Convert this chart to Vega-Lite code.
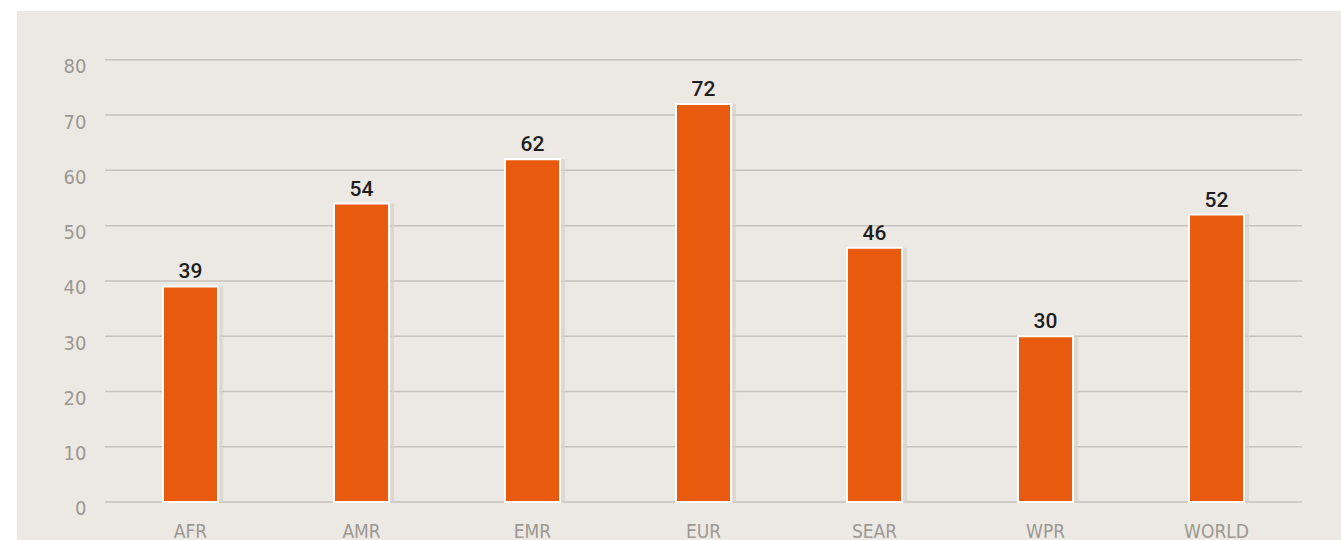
{
  "$schema": "https://vega.github.io/schema/vega-lite/v6.json",
  "autosize": {"type": "none"},
  "width": 1324,
  "height": 529,
  "padding": {"left": 17, "top": 11, "right": 0, "bottom": 0},
  "background": "#ffffff",
  "config": {
    "view": {"fill": "#ece9e4", "stroke": null},
    "font": "DejaVu Sans Condensed, Roboto, sans-serif"
  },
  "datasets": {
    "bars": [
      {"region": "AFR", "value": 39},
      {"region": "AMR", "value": 54},
      {"region": "EMR", "value": 62},
      {"region": "EUR", "value": 72},
      {"region": "SEAR", "value": 46},
      {"region": "WPR", "value": 30},
      {"region": "WORLD", "value": 52}
    ],
    "grid": [
      {"v": 0}, {"v": 10}, {"v": 20}, {"v": 30}, {"v": 40},
      {"v": 50}, {"v": 60}, {"v": 70}, {"v": 80}
    ]
  },
  "encoding": {
    "x": {
      "field": "region",
      "type": "nominal",
      "sort": null,
      "scale": {
        "domain": ["AFR", "AMR", "EMR", "EUR", "SEAR", "WPR", "WORLD"],
        "paddingInner": 0.678,
        "paddingOuter": 0.7103,
        "align": 0.601,
        "round": false
      },
      "axis": {
        "title": null,
        "orient": "bottom",
        "offset": -38,
        "domain": false,
        "ticks": false,
        "grid": false,
        "labelAngle": 0,
        "labelPadding": 20,
        "labelFont": "DejaVu Sans Condensed",
        "labelFontSize": 19,
        "labelColor": "#9c9893",
        "labelBaseline": "top"
      }
    },
    "y": {
      "field": "value",
      "type": "quantitative",
      "scale": {"domain": [-6.875, 88.83], "nice": false, "zero": false},
      "axis": {
        "title": null,
        "orient": "left",
        "offset": -88,
        "domain": false,
        "ticks": false,
        "grid": false,
        "values": [0, 10, 20, 30, 40, 50, 60, 70, 80],
        "labelPadding": 19,
        "labelFont": "DejaVu Sans Condensed",
        "labelFontSize": 20,
        "labelColor": "#9c9893",
        "labelOffset": 7
      }
    }
  },
  "layer": [
    {
      "data": {"name": "grid"},
      "mark": {"type": "rule", "color": "#c6c2bc", "strokeWidth": 1.5},
      "encoding": {
        "y": {"field": "v", "type": "quantitative"},
        "x": {"datum": "AFR", "type": "nominal", "bandPosition": -1.0545},
        "x2": {"datum": "WORLD", "bandPosition": 2.0545}
      }
    },
    {
      "data": {"name": "bars"},
      "mark": {"type": "bar", "fill": "#d6d2cc", "opacity": 0.7, "xOffset": 5},
      "encoding": {"y2": {"datum": 0}}
    },
    {
      "data": {"name": "bars"},
      "mark": {"type": "bar", "fill": "#e85b0e", "stroke": "#ffffff", "strokeWidth": 2},
      "encoding": {"y2": {"datum": 0}}
    },
    {
      "data": {"name": "bars"},
      "mark": {"type": "text", "baseline": "bottom", "dy": -4, "font": "Roboto", "fontWeight": 500, "fontSize": 21, "color": "#1e1e1e"},
      "encoding": {"text": {"field": "value", "type": "quantitative"}}
    }
  ]
}
